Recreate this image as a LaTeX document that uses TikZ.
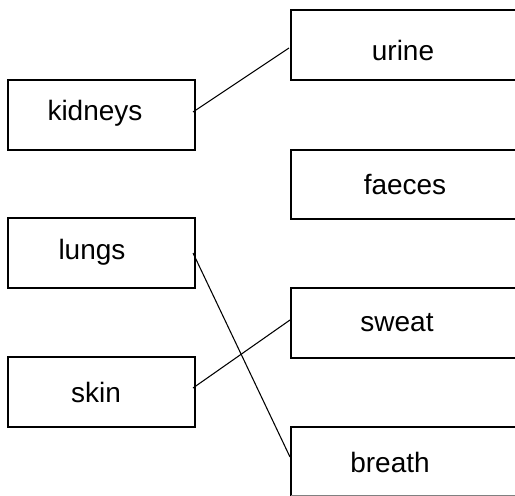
\documentclass[tikz,border=0pt]{standalone}
\usepackage{fontspec}
\setmainfont{Liberation Sans}
\begin{document}
\begin{tikzpicture}[x=0.75pt,y=-0.75pt,
  box/.style={draw, line width=0.9pt, minimum width=140.25pt, minimum height=52.5pt, inner sep=0pt, font=\fontsize{21}{25}\selectfont},
  openbox/.style={line width=0.9pt},
  lbl/.style={inner sep=0pt, font=\fontsize{21}{25}\selectfont},
  link/.style={line width=0.8pt}]
\useasboundingbox (0,0) rectangle (515,496);
% left boxes
\node[box] (kidneys) at (101.5,115) {};
\node[lbl] (tk) at (95,113) {kidneys};
\node[box] (lungs) at (101.5,253) {};
\node[lbl] (tl) at (92,252) {lungs};
\node[box] (skin) at (101.5,392) {};
\node[lbl] (ts) at (96,392) {skin};
% right open boxes
\draw[openbox] (516,10) -- (291,10) -- (291,80) -- (516,80);
\node[lbl] (urine) at (403,50) {urine};
\draw[openbox] (516,150) -- (291,150) -- (291,219) -- (516,219);
\node[lbl] (faeces) at (405,185) {faeces};
\draw[openbox] (516,288) -- (291,288) -- (291,358) -- (516,358);
\node[lbl] (sweat) at (397,323) {sweat};
\draw[openbox] (516,427) -- (291,427) -- (291,500);
\draw[line width=0.6pt, gray] (291,495) -- (516,495);
\node[lbl] (breath) at (390,462) {breath};
% connector ends
\coordinate (k1) at (193,112);
\coordinate (u1) at (289,48);
\coordinate (l1) at (193,253);
\coordinate (b1) at (290,457);
\coordinate (s1) at (193,388);
\coordinate (w1) at (290,320);
\draw[link] (k1) -- (u1);
\draw[link] (l1) -- (b1);
\draw[link] (s1) -- (w1);
\end{tikzpicture}
\end{document}
